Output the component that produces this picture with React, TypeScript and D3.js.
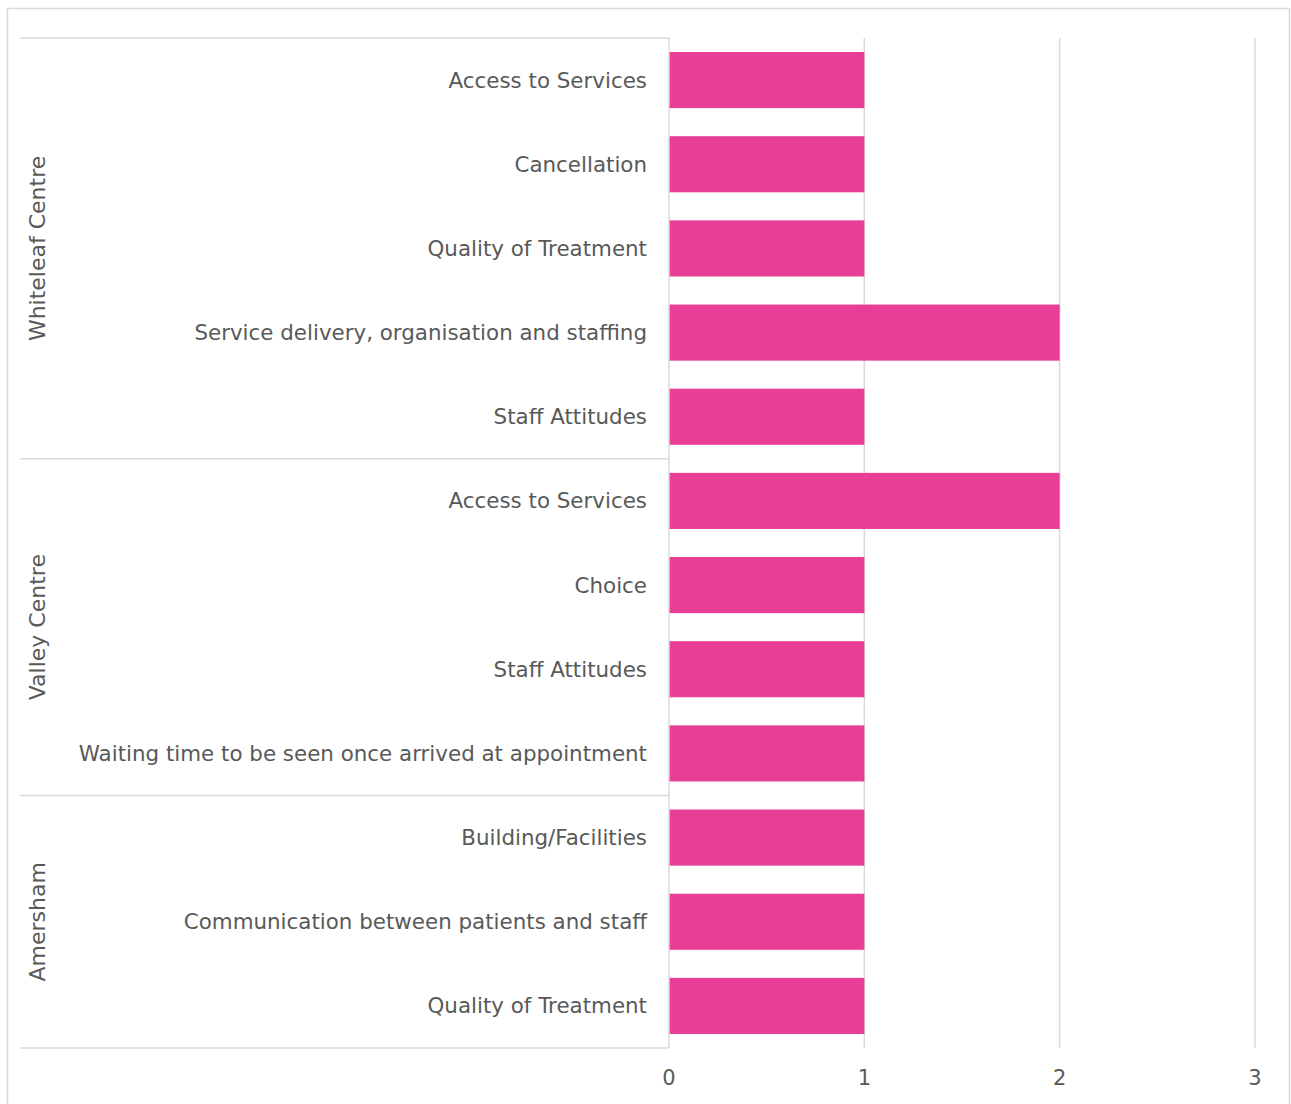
import React from "react";
import * as d3 from "d3";

const groups = ["Whiteleaf Centre", "Valley Centre", "Amersham"];
const groupSizes = [5, 4, 3];
const categories = [
  "Access to Services",
  "Cancellation",
  "Quality of Treatment",
  "Service delivery, organisation and staffing",
  "Staff Attitudes",
  "Access to Services",
  "Choice",
  "Staff Attitudes",
  "Waiting time to be seen once arrived at appointment",
  "Building/Facilities",
  "Communication between patients and staff",
  "Quality of Treatment",
];
const values = [1, 1, 1, 2, 1, 2, 1, 1, 1, 1, 1, 1];
const xTicks = [0, 1, 2, 3];

const W = 1291;
const H = 1104;
const plotLeft = 669;
const plotRight = 1255;
const plotTop = 38;
const plotBottom = 1048;
const leftEdge = 20;
const FONT = "'DejaVu Sans', Verdana, sans-serif";
const TEXT = "#595959";
const GRID = "#d9d9d9";
const BAR = "#E83E96";

export default function App() {
  const x = d3.scaleLinear().domain([0, 3]).range([plotLeft, plotRight]);
  const idx = categories.map((_, i) => i);
  const y = d3
    .scaleBand<number>()
    .domain(idx)
    .range([plotTop, plotBottom])
    .paddingInner(1 / 3)
    .paddingOuter(1 / 6);
  const step = y.step();

  const bounds: number[] = [0];
  groupSizes.forEach((s, i) => bounds.push(bounds[i] + s));
  const yEdge = (k: number) => plotTop + k * step;

  return (
    <svg
      width={W}
      height={H}
      style={{ position: "absolute", left: 0, top: 0, background: "#fff" }}
    >
      <rect x={7.5} y={8.5} width={1282} height={1110} fill="#fff" stroke={GRID} strokeWidth={1.5} />

      {xTicks.slice(1).map((t) => (
        <line key={t} x1={x(t)} x2={x(t)} y1={plotTop} y2={plotBottom} stroke={GRID} strokeWidth={1.5} />
      ))}

      {values.map((v, i) => (
        <rect key={i} x={x(0)} y={y(i)} width={x(v) - x(0)} height={y.bandwidth()} fill={BAR} />
      ))}

      <line x1={plotLeft} x2={plotLeft} y1={plotTop} y2={plotBottom} stroke={GRID} strokeWidth={1.5} />

      {bounds.map((b, i) => (
        <line key={i} x1={leftEdge} x2={plotLeft} y1={yEdge(b)} y2={yEdge(b)} stroke={GRID} strokeWidth={1.5} />
      ))}

      {categories.map((c, i) => (
        <text
          key={i}
          x={plotLeft - 22}
          y={(y(i) as number) + y.bandwidth() / 2}
          textAnchor="end"
          dominantBaseline="central"
          fontFamily={FONT}
          fontSize={21.4}
          fill={TEXT}
        >
          {c}
        </text>
      ))}

      {groups.map((g, i) => {
        const cy = (yEdge(bounds[i]) + yEdge(bounds[i + 1])) / 2;
        return (
          <text
            key={g}
            transform={`translate(37,${cy}) rotate(-90)`}
            textAnchor="middle"
            dominantBaseline="central"
            fontFamily={FONT}
            fontSize={22}
            fill={TEXT}
          >
            {g}
          </text>
        );
      })}

      {xTicks.map((t) => (
        <text
          key={t}
          x={x(t)}
          y={1078}
          textAnchor="middle"
          dominantBaseline="central"
          fontFamily={FONT}
          fontSize={21}
          fill={TEXT}
        >
          {t}
        </text>
      ))}
    </svg>
  );
}
